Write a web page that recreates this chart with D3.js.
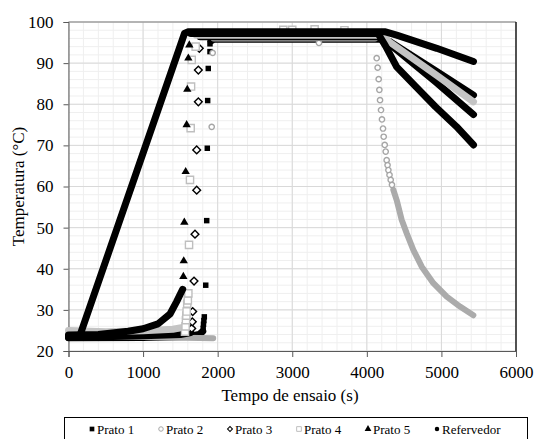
<!DOCTYPE html>
<html>
<head>
<meta charset="utf-8">
<script src="https://cdn.jsdelivr.net/npm/d3@7"></script>
<style>
  body { margin: 0; background: #fff; }
  svg { display: block; }
  text { font-family: "Liberation Serif", "DejaVu Serif", serif; fill: #000; }
</style>
</head>
<body>
<div id="chart"></div>
<script>
// readings taken off the figure: [time (s), temperature (°C)]
const xTicks = [0, 1000, 2000, 3000, 4000, 5000, 6000];
const yTicks = [20, 30, 40, 50, 60, 70, 80, 90, 100];
const seriesNames = ["Prato 1", "Prato 2", "Prato 3", "Prato 4", "Prato 5", "Refervedor"];

// dense logging merges into bands, so those runs are drawn as thick strokes
const prato1Low  = [[0, 23.2], [1000, 23.3], [1600, 23.5], [1750, 24.0], [1800, 24.8]];
const prato1Jump = [[1806, 25.5], [1810, 26.5], [1815, 27.4], [1821, 28.3], [1840, 36.0], [1853, 51.7],
                    [1861, 69.3], [1866, 80.9], [1874, 88.7], [1897, 92.8], [1897, 94.7]];
const prato1High = [[1910, 95.4], [1950, 95.8], [4200, 95.8], [4300, 95.3], [4937, 88.0], [5430, 82.2]];

const prato2Low  = [[0, 24.5], [300, 23.8], [1000, 23.4], [1940, 23.1]];
const prato2Jump = [[1920, 74.5], [1933, 92.5], [3358, 94.9],
                    [4132, 91.2], [4145, 88.9], [4159, 86.1], [4168, 83.5], [4177, 81.0], [4190, 78.6],
                    [4203, 76.3], [4217, 74.1], [4226, 72.1], [4240, 70.1], [4253, 68.5], [4266, 66.4],
                    [4278, 65.2], [4289, 64.0], [4304, 62.8], [4320, 61.6], [4337, 60.4]];
const prato2High = [[1945, 96.0], [4110, 96.0]];
const prato2Tail = [[4355, 59.2], [4400, 56.7], [4467, 51.9], [4535, 48.6], [4623, 44.6], [4736, 40.5],
                    [4892, 36.5], [5071, 33.2], [5249, 30.8], [5428, 28.7]];

const prato3Low  = [[0, 23.6], [1000, 23.7], [1500, 24.0], [1640, 24.5]];
const prato3Jump = [[1652, 25.5], [1660, 27.1], [1665, 29.6], [1683, 37.0], [1696, 48.4], [1719, 59.1],
                    [1719, 68.9], [1741, 80.6], [1741, 88.3], [1754, 93.6]];
const prato3High = [[1765, 96.4], [4200, 96.4], [4280, 95.0], [4937, 85.2], [5430, 77.5]];

const prato4Low  = [[0, 25.0], [500, 24.7], [1000, 24.9], [1400, 25.3], [1550, 25.8]];
const prato4Jump = [[1562, 24.7], [1570, 26.0], [1575, 27.5], [1580, 28.6], [1584, 29.6], [1592, 31.5],
                    [1600, 32.3], [1607, 34.0], [1616, 45.8], [1629, 61.6], [1638, 74.2], [1643, 84.3],
                    [1652, 90.8], [1705, 94.0], [2880, 98.1], [3000, 98.1], [3300, 98.2], [3700, 98.0]];
const prato4High = [[1715, 96.8], [4200, 96.8], [4300, 95.2], [4937, 87.0], [5430, 80.6]];

const prato5Low  = [[0, 23.9], [400, 24.0], [800, 24.8], [1000, 25.4], [1200, 26.6], [1361, 29.0],
                    [1450, 32.0], [1531, 35.0]];
const prato5Jump = [[1540, 38.1], [1545, 41.9], [1553, 51.3], [1571, 63.6], [1584, 75.0], [1593, 83.6],
                    [1607, 91.2], [1620, 94.4]];
const prato5High = [[1640, 97.2], [4150, 97.2], [4250, 94.2], [4400, 89.1], [4650, 84.4], [4920, 79.4],
                    [5200, 74.6], [5430, 70.1]];

const refervedorRun = [[0, 23.3], [150, 23.6], [1555, 97.2], [1600, 97.6], [4250, 97.6], [4400, 96.8],
                       [4937, 93.6], [5430, 90.4]];

const W = 535, H = 439;
const FONT = '"Liberation Serif", "DejaVu Serif", serif';
const x = d3.scaleLinear().domain([0, 6000]).range([68.5, 516]);
const y = d3.scaleLinear().domain([20, 100]).range([351, 22]);

const svg = d3.select("#chart").append("svg").attr("width", W).attr("height", H);

// gridlines, minor then major
const grid = svg.append("g");
grid.selectAll(".vmin").data(d3.range(0, 6001, 200)).join("line")
  .attr("x1", d => x(d)).attr("x2", d => x(d)).attr("y1", y(20)).attr("y2", y(100))
  .attr("stroke", "#efefef");
grid.selectAll(".hmin").data(d3.range(20, 101, 2)).join("line")
  .attr("x1", x(0)).attr("x2", x(6000)).attr("y1", d => y(d)).attr("y2", d => y(d))
  .attr("stroke", "#efefef");
grid.selectAll(".vmaj").data(xTicks).join("line")
  .attr("x1", d => x(d)).attr("x2", d => x(d)).attr("y1", y(20)).attr("y2", y(100))
  .attr("stroke", "#d9d9d9");
grid.selectAll(".hmaj").data(yTicks).join("line")
  .attr("x1", x(0)).attr("x2", x(6000)).attr("y1", d => y(d)).attr("y2", d => y(d))
  .attr("stroke", "#d9d9d9");

// plot frame (top grey, right black)
svg.append("line").attr("x1", x(0)).attr("x2", x(6000)).attr("y1", y(100)).attr("y2", y(100))
  .attr("stroke", "#808080");
svg.append("line").attr("x1", x(6000)).attr("x2", x(6000)).attr("y1", y(100)).attr("y2", y(20))
  .attr("stroke", "#000").attr("stroke-width", 1.3);

const xAxis = svg.append("g").attr("transform", `translate(0,${y(20)})`)
  .call(d3.axisBottom(x).tickValues(xTicks).tickSize(6).tickPadding(9).tickFormat(d3.format("d")));
const yAxis = svg.append("g").attr("transform", `translate(${x(0)},0)`)
  .call(d3.axisLeft(y).tickValues(yTicks).tickSize(5).tickPadding(10));
[xAxis, yAxis].forEach(a => {
  a.attr("font-family", null);
  a.select(".domain").attr("stroke", "#595959");
  a.selectAll(".tick line").attr("stroke", "#595959");
  a.selectAll("text").style("font-family", FONT).style("font-size", "17px").attr("fill", "#000");
});

svg.append("text").attr("x", 290).attr("y", 401).attr("text-anchor", "middle")
  .style("font-family", FONT).style("font-size", "17px").text("Tempo de ensaio (s)");
svg.append("text").attr("transform", `translate(24,${(y(20) + y(100)) / 2}) rotate(-90)`)
  .attr("text-anchor", "middle").style("font-family", FONT).style("font-size", "17px")
  .text("Temperatura (°C)");

// series styling
const sym = {
  fsq: d3.symbol().type(d3.symbolSquare).size(30),
  circ: d3.symbol().type(d3.symbolCircle).size(22),
  dia: d3.symbol().type(d3.symbolSquare).size(30),
  osq: d3.symbol().type(d3.symbolSquare).size(52),
  tri: d3.symbol().type(d3.symbolTriangle).size(30)
};
const series = [
  { name: seriesNames[0], runs: [prato1Low, prato1High], pts: prato1Jump, band: "#000", width: 7, shape: "fsq", fill: "#000", stroke: "none", rot: 0 },
  { name: seriesNames[1], runs: [prato2Low, prato2High, prato2Tail], pts: prato2Jump, band: "#ababab", width: 6, shape: "circ", fill: "#fff", stroke: "#a6a6a6", rot: 0 },
  { name: seriesNames[2], runs: [prato3Low, prato3High], pts: prato3Jump, band: "#000", width: 7, shape: "dia", fill: "#fff", stroke: "#000", rot: 45 },
  { name: seriesNames[3], runs: [prato4Low, prato4High], pts: prato4Jump, band: "#c4c4c4", width: 7, shape: "osq", fill: "#fff", stroke: "#bfbfbf", rot: 0 },
  { name: seriesNames[4], runs: [prato5Low, prato5High], pts: prato5Jump, band: "#000", width: 7, shape: "tri", fill: "#000", stroke: "none", rot: 0 },
  { name: seriesNames[5], runs: [refervedorRun], pts: [], band: "#000", width: 7, shape: "circ", fill: "#000", stroke: "none", rot: 0 }
];

const line = d3.line().x(d => x(d[0])).y(d => y(d[1]));
const plot = svg.append("g");
series.forEach(s => {
  const g = plot.append("g");
  g.selectAll("path.run").data(s.runs).join("path").attr("class", "run")
    .attr("d", line).attr("fill", "none").attr("stroke", s.band)
    .attr("stroke-width", s.width).attr("stroke-linejoin", "round").attr("stroke-linecap", "round");
  g.selectAll("path.pt").data(s.pts).join("path").attr("class", "pt")
    .attr("transform", d => `translate(${x(d[0])},${y(d[1])}) rotate(${s.rot})`)
    .attr("d", sym[s.shape]()).attr("fill", s.fill).attr("stroke", s.stroke).attr("stroke-width", 1.4);
});

// legend
const lg = svg.append("g");
lg.append("rect").attr("x", 64.5).attr("y", 417.5).attr("width", 463).attr("height", 30)
  .attr("fill", "#fff").attr("stroke", "#000");
const legSym = {
  fsq: d3.symbol().type(d3.symbolSquare).size(22),
  circ: d3.symbol().type(d3.symbolCircle).size(16),
  dia: d3.symbol().type(d3.symbolSquare).size(12),
  osq: d3.symbol().type(d3.symbolSquare).size(22),
  tri: d3.symbol().type(d3.symbolTriangle).size(20)
};
const legX = d3.scalePoint().domain(seriesNames).range([92, 437]);
const item = lg.selectAll("g.item").data(series).join("g").attr("class", "item")
  .attr("transform", d => `translate(${legX(d.name)},429)`);
item.append("path").attr("d", d => legSym[d.shape]()).attr("transform", d => `rotate(${d.rot})`)
  .attr("fill", d => d.fill).attr("stroke", d => d.stroke).attr("stroke-width", 1);
item.append("text").attr("x", 5).attr("y", 4.5)
  .style("font-family", FONT).style("font-size", "13px").text(d => d.name);
</script>
</body>
</html>
